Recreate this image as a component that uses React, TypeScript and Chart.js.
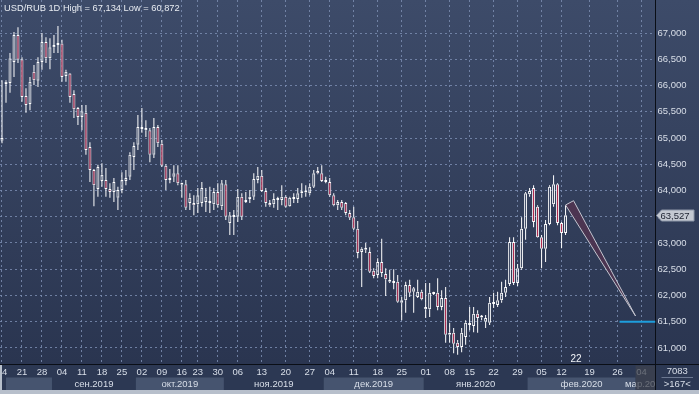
import React, { useEffect, useRef } from 'react';
import { Chart, registerables } from 'chart.js';

Chart.register(...registerables);

// ---- data ----
const opens = [
  64950, 66030, 66050, 66450, 66960, 66500, 65800, 65650, 66260, 66090,
  66450, 66830, 66520, 66730, 66770, 66800, 66180, 66230, 65840, 65570,
  65400, 65480, 64830, 64390, 64030, 64180, 64200, 64030, 63970, 63860,
  64010, 64180, 64260, 64640, 64870, 65210, 65150, 65150, 64680, 65210,
  64890, 64470, 64200, 64260, 64330, 64140, 64120, 63760, 63760, 63740,
  63760, 63780, 63780, 63740, 63970, 63700, 64120, 63380, 63530, 63500,
  63880, 63780, 63840, 63880, 64200, 64280, 63990, 63760, 63740, 63820,
  63820, 63880, 63700, 63840, 63840, 63950, 63970, 63950, 64070, 64370,
  64330, 64200, 64160, 63910, 63720, 63780, 63760, 63570, 63490, 63270,
  62830, 62870, 62830, 62470, 62390, 62640, 62410, 62290, 62240, 62260,
  61860, 61910, 62200, 62070, 61970, 62070, 61740, 61740, 62050, 62050,
  61780, 61950, 61250, 61290, 61100, 61020, 61210, 61440, 61420, 61650,
  61580, 61500, 61480, 61860, 61820, 61910, 62050, 62220, 63020, 62240,
  62520, 63270, 63930, 64050, 63690, 63110, 62890, 63360, 63740, 64120,
  63380, 63190,
];
const highs = [
  66100, 66100, 66620, 67020, 67110, 66540, 65950, 66160, 66390, 66540,
  67000, 66920, 66900, 66960, 67134, 66870, 66300, 66240, 65910, 65590,
  65630, 65630, 64920, 64410, 64490, 64520, 64430, 64140, 64240, 64070,
  64350, 64390, 64730, 64920, 65440, 65570, 65340, 65190, 65380, 65250,
  64960, 64500, 64410, 64480, 64480, 64150, 64200, 63950, 63910, 64050,
  64160, 64050, 64070, 64050, 64140, 64200, 64200, 63590, 63630, 64030,
  63950, 63970, 64010, 64330, 64450, 64390, 64050, 63820, 63950, 63880,
  64100, 63910, 63880, 63950, 64050, 64140, 64100, 64140, 64390, 64450,
  64480, 64260, 64240, 63950, 63820, 63820, 63780, 63630, 63690, 63420,
  62920, 63000, 62920, 62520, 62710, 63080, 62520, 62490, 62500, 62390,
  61970, 62260, 62300, 62160, 62300, 62110, 62240, 62240, 62070, 62330,
  62100, 62160, 61480, 61380, 61150, 61380, 61530, 61780, 61780, 61720,
  61630, 61630, 61970, 62050, 62070, 62260, 62300, 63110, 63110, 62600,
  63490, 63970, 64050, 64100, 63720, 63150, 63440, 64100, 64290, 64140,
  63400, 63720,
];
const lows = [
  64900, 65670, 65860, 66160, 66430, 65690, 65480, 65530, 66010, 65970,
  66300, 66430, 66310, 66620, 66620, 66070, 66070, 65670, 65380, 65250,
  65150, 64680, 64160, 63700, 63880, 64070, 63880, 63860, 63780, 63630,
  63950, 64100, 64200, 64390, 64770, 65100, 65020, 64540, 64620, 64830,
  64450, 64010, 64140, 64160, 64100, 63860, 63630, 63630, 63530, 63570,
  63690, 63590, 63570, 63630, 63670, 63630, 63440, 63150, 63150, 63400,
  63440, 63760, 63760, 63820, 64140, 63970, 63690, 63690, 63670, 63630,
  63720, 63670, 63690, 63760, 63760, 63860, 63880, 63910, 64050, 64310,
  64160, 64140, 63880, 63700, 63630, 63630, 63530, 63440, 63250, 62710,
  62160, 62810, 62430, 62330, 62330, 62350, 61990, 62240, 62120, 61860,
  61530, 61670, 61970, 61670, 61950, 61910, 61570, 61590, 62010, 61720,
  61720, 61100, 61100, 60900, 60872, 60920, 61060, 61340, 61300, 61290,
  61530, 61380, 61440, 61760, 61780, 61860, 61970, 62180, 62200, 62180,
  62490, 63060, 63880, 63300, 63100, 62520, 62640, 63340, 63690, 63340,
  62900, 63150,
];
const closes = [
  65000, 66070, 66520, 66960, 66490, 65780, 65630, 66070, 66100, 66450,
  66830, 66520, 66730, 66770, 66800, 66160, 66260, 65780, 65550, 65400,
  65510, 64770, 64390, 64100, 64450, 64300, 64030, 63970, 64160, 64010,
  64200, 64240, 64680, 64850, 65210, 65170, 65190, 64680, 65210, 64900,
  64470, 64200, 64240, 64330, 64140, 64110, 63670, 63860, 63720, 63910,
  64050, 63880, 63760, 63970, 63720, 64140, 63500, 63530, 63495, 63880,
  63500, 63820, 63880, 64220, 64280, 63990, 63760, 63720, 63840, 63840,
  63880, 63690, 63860, 63870, 63950, 63970, 63960, 64070, 64330, 64330,
  64180, 64160, 63910, 63720, 63780, 63670, 63570, 63480, 63270, 62810,
  62890, 62890, 62450, 62370, 62640, 62430, 62310, 62260, 62270, 61880,
  61910, 62200, 62050, 62140, 62070, 61930, 61780, 62050, 62030, 61780,
  61950, 61250, 61290, 61080, 61020, 61290, 61480, 61460, 61650, 61570,
  61590, 61570, 61860, 61840, 61910, 62050, 62160, 63020, 62240, 62520,
  63270, 63950, 63990, 63400, 63110, 62890, 63360, 64070, 64120, 63380,
  63190, 63527,
];
const futureSlots = 22;

// weekly tick labels and the slot (bar index) each one sits on
const tickSlots = [0, 5, 10, 15, 20, 25, 30, 35, 40, 45, 49, 54, 59, 65, 71, 77, 82, 88, 94, 100, 106, 112, 117, 123, 129, 135, 140, 147, 154, 160];
const tickTexts = ['14', '21', '28', '04', '11', '18', '25', '02', '09', '16', '23', '30', '06', '13', '20', '27', '04', '11', '18', '25', '01', '08', '15', '22', '29', '05', '12', '19', '26', '04'];

// month bands (first slot of each month)
const monthStarts = [0, 13, 34, 56, 81, 106, 132, 159];
const monthNames = ['', 'сен.2019', 'окт.2019', 'ноя.2019', 'дек.2019', 'янв.2020', 'фев.2020', 'мар.2020'];

// price axis
const yMin = 60695;
const yMax = 67629;
const yTickValues = [61000, 61500, 62000, 62500, 63000, 63500, 64000, 64500, 65000, 65500, 66000, 66500, 67000];

const titleText = 'USD/RUB 1D High = 67,134 Low = 60,872';
const lastPrice = 63527;
const arrowSlots = [141, 143, 158.5];
const arrowPrices = [63724, 63806, 61610];
const targetPrice = 61500;
const targetFromSlot = 154.5;
const countLabel = '22';
const countSlot = 143.6;
const panelTop = '7083';
const panelBottom = '>167<';

// ---- styles ----
const FONT = "'Liberation Sans', Arial, sans-serif";
const TEXT = '#d9dfe9';
const GRID = 'rgba(122,140,176,0.85)';
const RED = '#b8264c';
const AXIS = '#0a0e16';
const CLEAR = 'rgba(0,0,0,0)';

const labels: string[] = Array.from({ length: opens.length + futureSlots }, (_, i) => {
  const k = tickSlots.indexOf(i);
  return k >= 0 ? tickTexts[k] : '';
});

const bodyData = labels.map((_, i) => (i < opens.length ? [opens[i], closes[i]] : null));
const upperWick = labels.map((_, i) =>
  i < opens.length ? [Math.max(opens[i], closes[i]), highs[i]] : null
);
const lowerWick = labels.map((_, i) =>
  i < opens.length ? [lows[i], Math.min(opens[i], closes[i])] : null
);
const bodyColors = labels.map((_, i) =>
  i < opens.length && closes[i] < opens[i] ? RED : CLEAR
);

const decorPlugin = {
  id: 'decor',
  beforeDraw(chart: any) {
    const { ctx, chartArea: a, width, height } = chart;
    ctx.save();
    const g = ctx.createLinearGradient(0, 0, 0, a.bottom);
    g.addColorStop(0, '#3d4b69');
    g.addColorStop(1, '#2a3550');
    ctx.fillStyle = g;
    ctx.fillRect(0, 0, width, a.bottom);
    ctx.fillStyle = '#2c3853';
    ctx.fillRect(0, a.bottom, width, height - a.bottom);
    ctx.restore();
  },
  beforeDatasetsDraw(chart: any) {
    // weekly vertical grid lines (dashed) at the labelled slots
    const { ctx, chartArea: a } = chart;
    const xs = chart.scales.x;
    ctx.save();
    ctx.strokeStyle = GRID;
    ctx.lineWidth = 1;
    ctx.setLineDash([2, 3]);
    ctx.beginPath();
    tickSlots.forEach((s) => {
      const px = Math.round(xs.getPixelForValue(s) - 0.5) + 0.5;
      ctx.moveTo(px, 0);
      ctx.lineTo(px, a.bottom);
    });
    ctx.stroke();
    ctx.restore();
  },
  afterDatasetsDraw(chart: any) {
    const { ctx, chartArea: a } = chart;
    const xs = chart.scales.x;
    const ys = chart.scales.y;
    ctx.save();
    ctx.beginPath();
    ctx.rect(a.left, a.top, a.right - a.left, a.bottom - a.top);
    ctx.clip();
    // forecast arrow
    ctx.beginPath();
    arrowSlots.forEach((s, i) => {
      const px = xs.getPixelForValue(s);
      const py = ys.getPixelForValue(arrowPrices[i]);
      if (i === 0) ctx.moveTo(px, py);
      else ctx.lineTo(px, py);
    });
    ctx.closePath();
    ctx.fillStyle = 'rgba(78,52,80,0.92)';
    ctx.fill();
    ctx.strokeStyle = '#c4c6d0';
    ctx.lineWidth = 1;
    ctx.stroke();
    // target level
    const ty = ys.getPixelForValue(targetPrice);
    ctx.beginPath();
    ctx.moveTo(xs.getPixelForValue(targetFromSlot), ty);
    ctx.lineTo(a.right, ty);
    ctx.strokeStyle = '#1e9edc';
    ctx.lineWidth = 2;
    ctx.stroke();
    // count label
    ctx.fillStyle = '#f2f4f8';
    ctx.font = `10px ${FONT}`;
    ctx.textAlign = 'center';
    ctx.textBaseline = 'middle';
    ctx.fillText(countLabel, xs.getPixelForValue(countSlot), a.bottom - 5);
    ctx.restore();
  },
  afterDraw(chart: any) {
    const { ctx, chartArea: a, width, height } = chart;
    const xs = chart.scales.x;
    const ys = chart.scales.y;
    const half = (xs.getPixelForValue(1) - xs.getPixelForValue(0)) / 2;
    ctx.save();
    // month bands
    ctx.save();
    ctx.beginPath();
    ctx.rect(0, a.bottom + 1, a.right, height - a.bottom);
    ctx.clip();
    ctx.font = `9.5px ${FONT}`;
    ctx.textAlign = 'center';
    ctx.textBaseline = 'middle';
    const starts = monthStarts.map((s) => xs.getPixelForValue(s) - half);
    for (let m = 0; m < monthStarts.length; m++) {
      const x0 = Math.max(starts[m], 6);
      const x1 = m + 1 < starts.length ? starts[m + 1] : a.right;
      if (m % 2 === 0) {
        ctx.fillStyle = '#46546f';
        ctx.fillRect(x0, a.bottom + 13.5, x1 - x0, 12.5);
      }
      if (monthNames[m]) {
        ctx.fillStyle = TEXT;
        ctx.fillText(monthNames[m], (x0 + Math.min(x1, a.right)) / 2, a.bottom + 20.5);
      }
    }
    // future (cursor) zone overlay
    const fz = starts[starts.length - 1];
    ctx.fillStyle = 'rgba(62,66,78,0.72)';
    ctx.fillRect(fz, a.bottom + 1.5, a.right - fz, 24.5);
    ctx.restore();

    // axis lines across the right panel
    ctx.strokeStyle = AXIS;
    ctx.lineWidth = 1;
    ctx.beginPath();
    ctx.moveTo(a.right, a.bottom + 0.5);
    ctx.lineTo(width, a.bottom + 0.5);
    ctx.moveTo(a.right, a.bottom);
    ctx.lineTo(a.right, a.bottom + 26);
    ctx.stroke();

    // light bottom / left frame strips
    ctx.fillStyle = '#b7bfcb';
    ctx.fillRect(0, a.bottom + 26, width, height - a.bottom - 26);
    ctx.fillRect(0, a.bottom + 1, 2, height - a.bottom);

    // right panel texts
    ctx.font = `9.5px ${FONT}`;
    ctx.textAlign = 'center';
    ctx.textBaseline = 'middle';
    ctx.fillStyle = TEXT;
    const cx = (a.right + width) / 2;
    ctx.fillText(panelTop, cx, a.bottom + 7.5);
    ctx.fillText(panelBottom, cx, a.bottom + 20.5);
    ctx.strokeStyle = 'rgba(160,172,195,0.55)';
    ctx.beginPath();
    ctx.moveTo(a.right + 6, a.bottom + 13.5);
    ctx.lineTo(width - 6, a.bottom + 13.5);
    ctx.stroke();

    // last price box
    const py = Math.round(ys.getPixelForValue(lastPrice)) + 0.5;
    ctx.beginPath();
    ctx.moveTo(a.right + 1, py);
    ctx.lineTo(a.right + 6, py - 5.5);
    ctx.lineTo(width - 5, py - 5.5);
    ctx.lineTo(width - 5, py + 5.5);
    ctx.lineTo(a.right + 6, py + 5.5);
    ctx.closePath();
    ctx.fillStyle = '#c4c9d2';
    ctx.fill();
    ctx.strokeStyle = '#8e97a8';
    ctx.stroke();
    ctx.fillStyle = '#1c2130';
    ctx.textAlign = 'left';
    ctx.fillText(lastPrice.toLocaleString('en-US'), a.right + 5, py + 0.5);

    // title
    ctx.font = `9.3px ${FONT}`;
    ctx.fillStyle = '#e8ecf2';
    ctx.textAlign = 'left';
    ctx.fillText(titleText, 4, 8);
    ctx.restore();
  },
};

export default function App() {
  const ref = useRef<HTMLCanvasElement>(null);
  useEffect(() => {
    if (!ref.current) return;
    const chart = new Chart(ref.current, {
      type: 'bar',
      data: {
        labels,
        datasets: [
          {
            data: bodyData as any,
            backgroundColor: bodyColors,
            borderColor: '#ffffff',
            borderWidth: 1,
            borderSkipped: false,
            barThickness: 3,
            maxBarThickness: 3,
            minBarLength: 2,
            grouped: false,
            inflateAmount: 0,
          } as any,
          {
            data: upperWick as any,
            backgroundColor: '#ffffff',
            borderWidth: 0,
            barThickness: 1,
            maxBarThickness: 1,
            grouped: false,
            inflateAmount: 0,
          } as any,
          {
            data: lowerWick as any,
            backgroundColor: '#ffffff',
            borderWidth: 0,
            barThickness: 1,
            maxBarThickness: 1,
            grouped: false,
            inflateAmount: 0,
          } as any,
        ],
      },
      options: {
        animation: false,
        responsive: false,
        devicePixelRatio: 1,
        layout: { padding: { left: -0.5, right: 0, top: 0, bottom: 0 }, autoPadding: false } as any,
        plugins: {
          legend: { display: false },
          tooltip: { enabled: false },
          title: { display: false },
        },
        scales: {
          x: {
            type: 'category',
            offset: true,
            grid: {
              offset: false,
              drawTicks: false,
              drawOnChartArea: false,
              lineWidth: 1,
            },
            border: { display: true, color: AXIS, width: 1 },
            ticks: {
              autoSkip: false,
              maxRotation: 0,
              minRotation: 0,
              padding: 3,
              color: TEXT,
              font: { family: FONT, size: 9.5 },
              callback: (_v: any, i: number) => labels[i],
            },
            afterFit: (s: any) => {
              s.height = 30;
              s.paddingLeft = 0;
              s.paddingRight = 0;
            },
          } as any,
          y: {
            position: 'right',
            min: yMin,
            max: yMax,
            grid: { drawTicks: false, lineWidth: 1, color: GRID },
            border: { display: true, color: AXIS, width: 1, dash: [2, 3] },
            ticks: {
              padding: 2,
              color: TEXT,
              font: { family: FONT, size: 9.5 },
              callback: (v: any) => Number(v).toLocaleString('en-US'),
            },
            afterBuildTicks: (s: any) => {
              s.ticks = yTickValues.map((v) => ({ value: v }));
            },
            afterFit: (s: any) => {
              s.width = 43.5;
              s.paddingTop = 0;
              s.paddingBottom = 0;
            },
          } as any,
        },
      },
      plugins: [decorPlugin],
    });
    return () => chart.destroy();
  }, []);
  return (
    <div style={{ position: 'absolute', left: 0, top: 0, width: 699, height: 394, overflow: 'hidden' }}>
      <canvas ref={ref} width={699} height={394} style={{ display: 'block' }} />
    </div>
  );
}
